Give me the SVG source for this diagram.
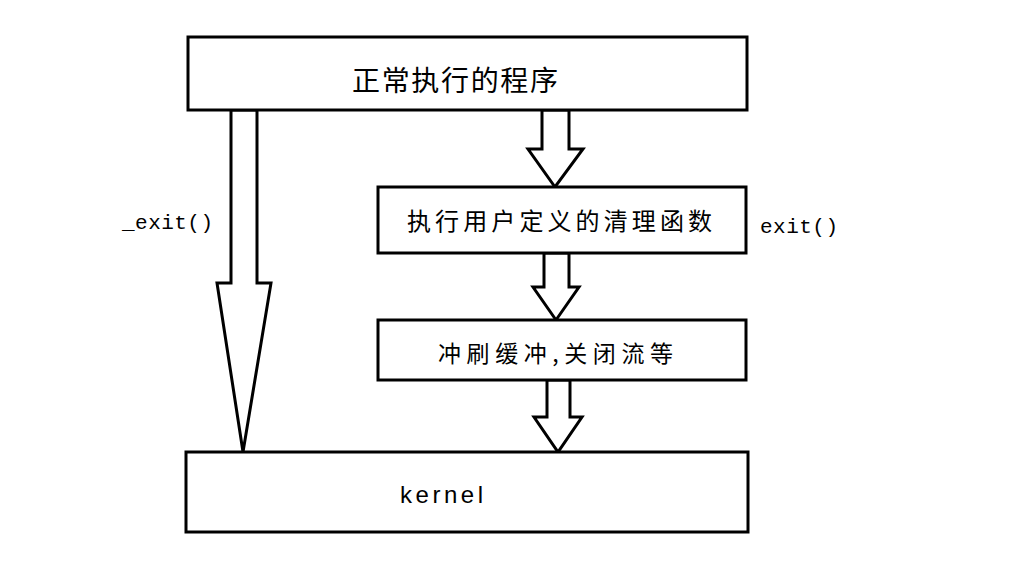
<svg xmlns="http://www.w3.org/2000/svg" width="1026" height="588" viewBox="0 0 1026 588">
<style>
.box{fill:#fff;stroke:#000;stroke-width:3}
.arr{fill:#fff;stroke:#000;stroke-width:3;stroke-linejoin:miter}
.cjk{font-family:"Noto Sans CJK SC","Noto Sans",sans-serif;fill:#000}
.mono{font-family:"Liberation Mono","DejaVu Sans Mono",monospace;fill:#000;font-size:21px}
.lat{font-family:"Liberation Sans",Arial,sans-serif;fill:#000}
</style>
<rect width="1026" height="588" fill="#fff"/>
<g id="connectors">
<polygon class="arr" points="231,110 231,283 217,283 243,452 271,283 257,283 257,110"/>
<polygon class="arr" points="542,110 542,149 528,149 555,187 583,149 569,149 569,110"/>
<polygon class="arr" points="544,253 544,287 533,287 556,320 579,287 569,287 569,253"/>
<polygon class="arr" points="547,380 547,417 534,417 558,452 582,417 570,417 570,380"/>
<text class="mono" x="122" y="229" textLength="91" lengthAdjust="spacing">_exit()</text>
<text class="mono" x="760" y="233" textLength="78" lengthAdjust="spacing">exit()</text>
</g>
<g id="node-main">
<rect class="box" x="188" y="37" width="559" height="73"/>
<text class="cjk" x="352" y="91" font-size="28" textLength="206" lengthAdjust="spacing">正常执行的程序</text>
</g>
<g id="node-cleanup">
<rect class="box" x="378" y="187" width="368" height="66"/>
<text class="cjk" x="407" y="230" font-size="24" textLength="305" lengthAdjust="spacing">执行用户定义的清理函数</text>
</g>
<g id="node-flush">
<rect class="box" x="378" y="320" width="368" height="60"/>
<text class="cjk" x="438" y="362" font-size="23" textLength="235" lengthAdjust="spacing">冲刷缓冲,关闭流等</text>
</g>
<g id="node-kernel">
<rect class="box" x="186" y="452" width="562" height="80"/>
<text class="lat" x="400" y="503" font-size="24" textLength="83" lengthAdjust="spacing">kernel</text>
</g>
</svg>
